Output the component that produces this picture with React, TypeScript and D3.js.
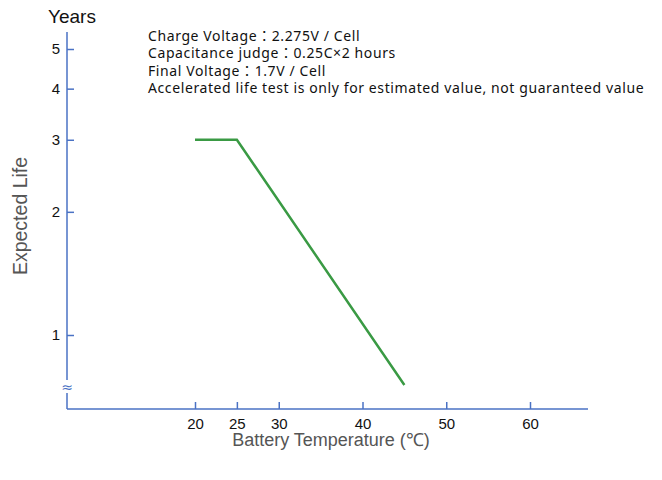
import { useEffect, useRef } from 'react'
import * as d3 from 'd3'

const temps = [20, 25, 45]
const life = [3, 3, 0.755]
const xTicks = [20, 25, 30, 40, 50, 60]
const yTicks = [1, 2, 3, 4, 5]
const notes = [
  'Charge Voltage：2.275V / Cell',
  'Capacitance judge：0.25C×2 hours',
  'Final Voltage：1.7V / Cell',
  'Accelerated life test is only for estimated value, not guaranteed value',
]

const W = 662
const H = 480
const axisColor = '#4a72c4'
const lineColor = '#3a9a44'
const sans = '"Liberation Sans", Arial, sans-serif'

function LifeChart() {
  const ref = useRef<SVGSVGElement | null>(null)

  useEffect(() => {
    const svg = d3.select(ref.current)
    svg.selectAll('*').remove()

    const left = 67
    const right = 588
    const top = 32
    const bottom = 409

    const x = d3.scaleLinear().domain([20, 60]).range([195, 530])
    const y = d3.scaleLog().domain([1, 5]).range([335, 49])

    // axes lines
    svg.append('line')
      .attr('x1', left).attr('x2', left).attr('y1', top).attr('y2', bottom)
      .attr('stroke', axisColor).attr('stroke-width', 1.5)
    svg.append('line')
      .attr('x1', left).attr('x2', right).attr('y1', bottom).attr('y2', bottom)
      .attr('stroke', axisColor).attr('stroke-width', 1.5)

    const yAxis = d3.axisLeft(y)
      .tickValues(yTicks)
      .tickFormat(d3.format('d'))
      .tickSizeInner(-7)
      .tickSizeOuter(0)
      .tickPadding(7)
    const yg = svg.append('g').attr('transform', `translate(${left},0)`).call(yAxis)
    yg.attr('font-size', 15).attr('font-family', sans)
    yg.select('.domain').remove()
    yg.selectAll('.tick line').attr('stroke', axisColor).attr('stroke-width', 1.5)
    yg.selectAll('.tick text').attr('fill', '#111')

    const xAxis = d3.axisBottom(x)
      .tickValues(xTicks)
      .tickFormat(d3.format('d'))
      .tickSizeInner(-7)
      .tickSizeOuter(0)
      .tickPadding(9)
    const xg = svg.append('g').attr('transform', `translate(0,${bottom})`).call(xAxis)
    xg.attr('font-size', 15).attr('font-family', sans)
    xg.select('.domain').remove()
    xg.selectAll('.tick line').attr('stroke', axisColor).attr('stroke-width', 1.5)
    xg.selectAll('.tick text').attr('fill', '#111')

    // axis break mark
    svg.append('rect')
      .attr('x', left - 4).attr('y', 380).attr('width', 8).attr('height', 13)
      .attr('fill', '#fff')
    svg.append('text')
      .attr('x', left).attr('y', 392)
      .attr('text-anchor', 'middle')
      .attr('fill', axisColor)
      .attr('font-family', '"DejaVu Sans", sans-serif')
      .attr('font-size', 14)
      .text('≈')

    // data line
    const pts = temps.map((t, i) => [t, life[i]] as [number, number])
    const line = d3.line<[number, number]>()
      .x((d) => x(d[0]))
      .y((d) => y(d[1]))
    svg.append('path')
      .attr('d', line(pts))
      .attr('fill', 'none')
      .attr('stroke', lineColor)
      .attr('stroke-width', 2.5)

    // titles
    svg.append('text')
      .attr('x', 48).attr('y', 23)
      .attr('fill', '#111')
      .attr('font-family', sans).attr('font-size', 19)
      .text('Years')

    svg.append('text')
      .attr('transform', 'translate(27,216) rotate(-90)')
      .attr('text-anchor', 'middle')
      .attr('fill', '#555')
      .attr('font-family', sans).attr('font-size', 19.5)
      .text('Expected Life')

    svg.append('text')
      .attr('x', 331).attr('y', 446)
      .attr('text-anchor', 'middle')
      .attr('fill', '#555')
      .attr('font-family', sans).attr('font-size', 18)
      .text('Battery Temperature (℃)')

    // notes block: one text element, one line per tspan
    svg.append('text')
      .attr('fill', '#111')
      .attr('font-family', '"Noto Sans", "Noto Sans CJK TC", sans-serif')
      .attr('font-size', 14)
      .attr('letter-spacing', 0.6)
      .selectAll('tspan')
      .data(notes)
      .join('tspan')
      .attr('x', 148)
      .attr('y', (_, i) => 41 + i * 17.3)
      .text((d) => d)
  }, [])

  return <svg ref={ref} width={W} height={H} style={{ display: 'block', background: '#fff' }} />
}

export default function App() {
  return (
    <div style={{ position: 'absolute', left: 0, top: 0 }}>
      <LifeChart />
    </div>
  )
}
